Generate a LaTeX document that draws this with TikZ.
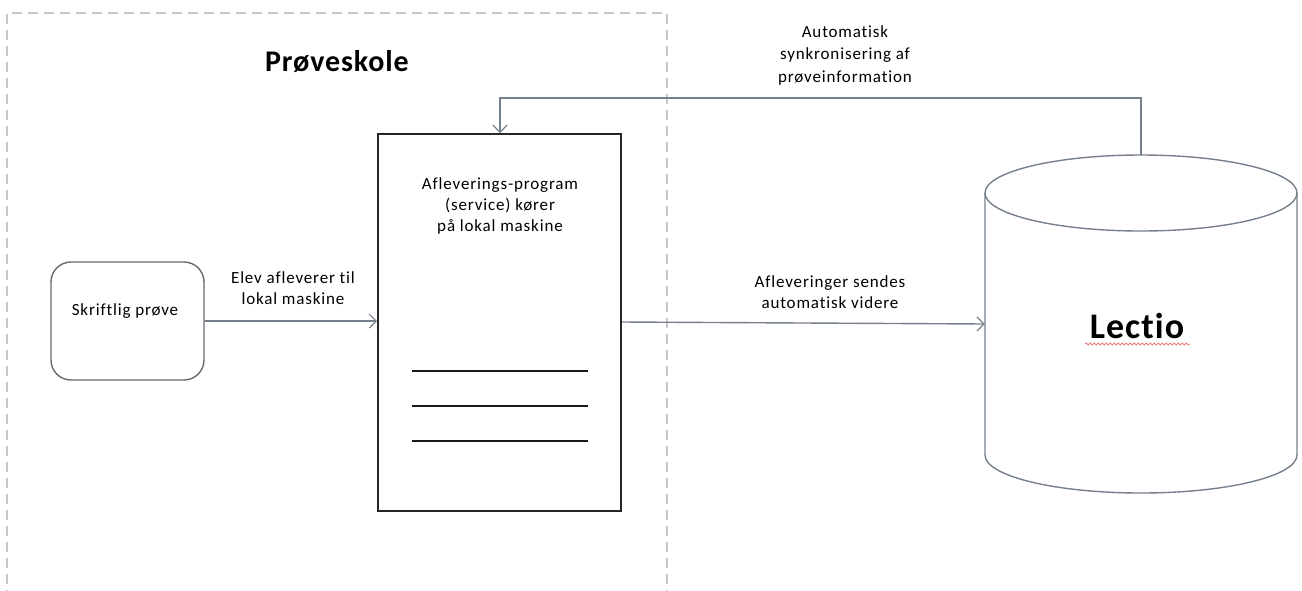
\documentclass[tikz,border=0pt]{standalone}
\usepackage{fontspec}
\setmainfont{Carlito}[Ligatures=NoCommon]
\newfontfamily\lblfont{Carlito}[Ligatures=NoCommon, LetterSpace=5]
\newfontfamily\ttlfont{Carlito}[Ligatures=NoCommon, LetterSpace=3, BoldFont={* Bold}]
\usetikzlibrary{arrows.meta,decorations.pathmorphing}
\definecolor{conn}{RGB}{118,128,140}
\definecolor{boxgray}{RGB}{105,105,110}
\definecolor{dashgray}{RGB}{200,200,200}
\definecolor{squig}{RGB}{235,110,110}
\tikzset{
  conline/.style={draw=conn, line width=1.4pt, -{Straight Barb[length=7pt,width=14pt,line width=1.2pt]}},
  lbl/.style={font=\lblfont\fontsize{17}{21}\selectfont, align=center, inner sep=0pt},
  ruleline/.style={draw=black!90, line width=1.5pt},
}
\begin{document}
\begin{tikzpicture}[x=1pt,y=-1pt]
\useasboundingbox (0,0) rectangle (1302,590);
% dashed school boundary
\draw[dashgray, line width=1.4pt, dash pattern=on 10pt off 6pt] (7,600) -- (7,13) -- (667,13) -- (667,600);
\node[font=\ttlfont\bfseries\fontsize{30}{34}\selectfont, inner sep=0pt] (title) at (337,62) {Prøveskole};
% student exam
\node[draw=boxgray, line width=1.4pt, rounded corners=20pt, minimum width=153pt, minimum height=118pt] (exam) at (127.5,321) {};
\node[lbl] (examtext) at (125,311) {Skriftlig prøve};
% service box
\node[draw=black!85, line width=2pt, minimum width=243pt, minimum height=377pt, inner sep=0pt] (svc) at (499.5,322.5) {};
\node[lbl] (svctext) at (500,206) {Afleverings-program\\(service) kører\\på lokal maskine};
\draw[ruleline] (412,371) -- (588,371);
\draw[ruleline] (412,406) -- (588,406);
\draw[ruleline] (412,441) -- (588,441);
% cylinder
\draw[draw=conn, line width=1.4pt, fill=white] (985,193) -- (985,455) arc[start angle=180, end angle=0, x radius=156, y radius=38] -- (1297,193);
\draw[draw=conn, line width=1.4pt] (1141,193) ellipse[x radius=156, y radius=38];
\node[minimum width=312pt, minimum height=338pt, inner sep=0pt] (lectio) at (1141,324) {};
\node[font=\ttlfont\bfseries\fontsize{36}{40}\selectfont, inner sep=0pt] (lectiotext) at (1137,326) {Lectio};
\draw[squig, line width=0.7pt, decorate, decoration={snake, amplitude=1.2pt, segment length=4pt}] (1085,344) -- (1190,344);
% connectors
\draw[conline] (exam.east) -- (svc.west |- exam.east);
\node[lbl] (l1) at (293,288) {Elev afleverer til\\lokal maskine};
\draw[conline] (svc.east |- 0,322) -- (lectio.west);
\node[lbl] (l2) at (830,292) {Afleveringer sendes\\automatisk videre};
\coordinate (c1) at (1141,98);
\coordinate (c2) at (500,98);
\draw[conline] (lectio.north) -- (c1) -- (c2) -- (svc.north -| c2);
\node[lbl, font=\lblfont\fontsize{17}{22.5}\selectfont] (l3) at (845,55) {Automatisk\\synkronisering af\\prøveinformation};
\end{tikzpicture}
\end{document}
